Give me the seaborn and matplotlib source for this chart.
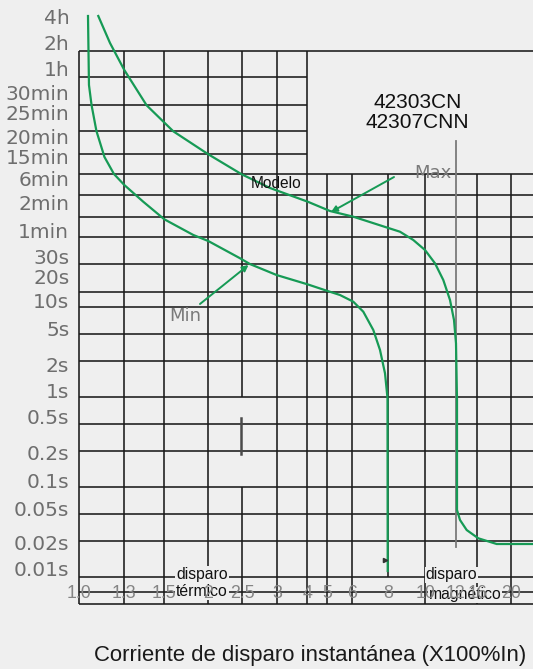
import numpy as np
import pandas as pd
import matplotlib
matplotlib.use("Agg")
import matplotlib.pyplot as plt
import seaborn as sns

# ---------------- data ----------------
time_ticks = [14400, 7200, 3600, 1800, 1500, 1200, 900, 360, 120, 60, 30, 20, 10,
              5, 2, 1, 0.5, 0.2, 0.1, 0.05, 0.02, 0.01]
time_labels = ["4h", "2h", "1h", "30min", "25min", "20min", "15min", "6min", "2min",
               "1min", "30s", "20s", "10s", "5s", "2s", "1s", "0.5s", "0.2s", "0.1s",
               "0.05s", "0.02s", "0.01s"]
mult_ticks = [1.0, 1.3, 1.5, 2, 2.5, 3, 4, 5, 6, 8, 10, 12, 16, 20]
mult_labels = ["1.0", "1.3", "1.5", "2", "2.5", "3", "4", "5", "6", "8", "10", "12", "16", "20"]

min_mult = [1.052, 1.055, 1.058, 1.074, 1.105, 1.158, 1.224, 1.30, 1.391, 1.50, 1.813,
            2.0, 2.463, 2.602, 2.991, 4.018, 4.966, 5.485, 6.048, 6.551, 7.096, 7.487,
            7.792, 7.949, 7.962]
min_time = [14400, 5817, 2247, 1613, 1269, 900, 443, 273.6, 127.4, 79.0, 52.8, 45.2,
            29.2, 25.8, 20.4, 15.7, 13.08, 11.55, 9.588, 7.485, 4.752, 2.856, 1.575,
            0.8298, 0.00923]
max_mult = [1.117, 1.196, 1.3, 1.408, 1.591, 2.0, 2.490, 2.888, 4.018, 5.099, 6.048, 8.0,
            8.585, 9.302, 9.982, 10.60, 11.14, 11.597, 11.878, 12.048, 12.21, 12.21,
            12.707, 13.893, 16.105, 18.17, 23.06]
max_time = [14400, 7010, 3406, 1609, 1265, 935.7, 437.9, 238.5, 127.4, 97.7, 84.4, 63.2,
            57.4, 46.4, 35.9, 26.2, 17.8, 10, 6.095, 3.387, 0.7867, 0.0474, 0.0362,
            0.0276, 0.0221, 0.01896, 0.01896]

min_arrow = [(1.894, 9.057), (2.582, 25.3)]     # tail, head
max_arrow = [(8.28, 391), (5.137, 95.2)]
magnetic_mult = [12, 12]
magnetic_time = [1133, 0.0175]
thermal_mult = [2.479, 2.479]
thermal_time = [0.4874, 0.1951]
mark_point = (7.773, 0.01238)

# ---------------- style / layout ----------------
BG = "#efefef"
GREEN = "#169a55"
GRID = "#1a1a1a"
W, H = 533, 669
AX_L, AX_R, AX_T, AX_B = 79.3, 533.0, 0.0, 603.5

# pixel anchors of the (irregular) printed scales
time_pix = [16, 42, 68, 93, 113, 137, 157, 179, 203, 230, 257, 276, 300, 328, 364, 391,
            417, 453, 481, 508, 542, 568]
mult_pix = [79.3, 124.3, 164.3, 208.3, 242.3, 277.3, 307.3, 327.3, 352.3, 388.3, 425.3,
            455.7, 477.3, 511.3]


def lin_extrap(x, xp, fp):
    x = np.asarray(x, float)
    y = np.interp(x, xp, fp)
    y = np.where(x < xp[0], fp[0] + (x - xp[0]) * (fp[1] - fp[0]) / (xp[1] - xp[0]), y)
    y = np.where(x > xp[-1], fp[-1] + (x - xp[-1]) * (fp[-1] - fp[-2]) / (xp[-1] - xp[-2]), y)
    return y


lt = np.log10(np.array(time_ticks, float))[::-1]
tp = -np.array(time_pix, float)[::-1]
lm = np.log10(np.array(mult_ticks, float))
mp = np.array(mult_pix, float)


def y_fwd(v):
    return lin_extrap(np.log10(np.clip(np.asarray(v, float), 1e-12, None)), lt, tp)


def y_inv(t):
    return 10 ** lin_extrap(t, tp, lt)


def x_fwd(v):
    return lin_extrap(np.log10(np.clip(np.asarray(v, float), 1e-12, None)), lm, mp)


def x_inv(p):
    return 10 ** lin_extrap(p, mp, lm)


fig = plt.figure(figsize=(W / 100, H / 100), dpi=100, facecolor=BG)
ax = fig.add_axes([AX_L / W, 1 - AX_B / H, (AX_R - AX_L) / W, (AX_B - AX_T) / H])
ax.set_facecolor(BG)

df = pd.concat([
    pd.DataFrame({"mult": min_mult, "time": min_time, "curve": "Min"}),
    pd.DataFrame({"mult": max_mult, "time": max_time, "curve": "Max"}),
], ignore_index=True)

sns.lineplot(data=df, x="mult", y="time", hue="curve", units="curve",
             palette={"Min": GREEN, "Max": GREEN}, estimator=None, sort=False,
             legend=False, lw=1.6, ax=ax, zorder=4)

ax.set_xscale("function", functions=(x_fwd, x_inv))
ax.set_yscale("function", functions=(y_fwd, y_inv))
ax.set_xlim(1.0, float(x_inv(AX_R)))
ax.set_ylim(float(y_inv(-AX_B)), float(y_inv(-AX_T)))
ax.autoscale(False)

ax.set_xticks(mult_ticks, mult_labels)
ax.set_yticks(time_ticks, time_labels)
ax.minorticks_off()
ax.tick_params(axis="y", length=0, pad=7.2, labelsize=14.5, labelcolor="#6e6e6e")
ax.tick_params(axis="x", length=0, pad=-13.3, labelsize=12.8, labelcolor="#858585")
for lab in ax.get_xticklabels():
    lab.set_fontfamily("Liberation Sans")
for s in ax.spines.values():
    s.set_visible(False)
ax.grid(False)
ax.set_axisbelow(False)
ax.set_xlabel("")
ax.set_ylabel("")


def fy(p):
    return (AX_B - p) / (AX_B - AX_T)


def fx(p):
    return (p - AX_L) / (AX_R - AX_L)


# grid (layout)
gkw = dict(colors=GRID, lw=1.15, clip_on=False, zorder=1)
xt = ax.get_xaxis_transform()
for v in [1.0, 1.3, 1.5, 2, 3, 4]:
    ax.vlines(v, fy(603.5), fy(50.7), transform=xt, **gkw)
ax.vlines(2.5, fy(397.3), fy(50.7), transform=xt, **gkw)
ax.vlines(2.5, fy(603.5), fy(487.3), transform=xt, **gkw)
for v in [5, 6, 10, 16, 20]:
    ax.vlines(v, fy(603.5), fy(174.3), transform=xt, **gkw)
ax.vlines(8, fy(577.3), fy(174.3), transform=xt, **gkw)
ax.hlines([fy(p) for p in [77.3, 105.3, 131.3, 154.3]], 0, fx(307.3),
          transform=ax.transAxes, **gkw)
ax.hlines([fy(p) for p in [50.7, 174.3, 195.3, 217.3, 237.3, 264.3, 291.7, 307.3, 334.3,
                           361.3, 397.3, 424.3, 451.3, 487.3, 514.3, 541.3, 577.3, 592.3,
                           603.5]], 0, 1, transform=ax.transAxes, **gkw)

# extra marks
ax.plot(magnetic_mult, magnetic_time, color="#7a7a7a", lw=1.3, zorder=3)
ax.plot(thermal_mult, thermal_time, color="#4a4a4a", lw=1.8, zorder=3)
ax.plot([mark_point[0]], [mark_point[1]], marker=">", ms=3, color="#333333", zorder=5)

akw = dict(arrowstyle="-|>", mutation_scale=9, color=GREEN, lw=1.4, shrinkA=0, shrinkB=0)
ax.annotate("", xy=min_arrow[1], xytext=min_arrow[0], arrowprops=akw, zorder=5)
ax.annotate("", xy=max_arrow[1], xytext=max_arrow[0], arrowprops=akw, zorder=5)


def ftext(px, py, s, **kw):
    return ax.text(px / W, 1 - py / H, s, transform=fig.transFigure, clip_on=False, **kw)


ftext(417.3, 112.6, "42303CN\n42307CNN", ha="center", va="center", fontsize=15,
      family="Liberation Sans", color="#111111", linespacing=1.12, zorder=6)
ftext(275.8, 183.5, "Modelo", ha="center", va="center", fontsize=11.2,
      family="Liberation Sans", color="#111111", zorder=6)
ftext(433.3, 172.7, "Max", ha="center", va="center", fontsize=13,
      color="#7a7a7a", zorder=6)
ftext(185, 316, "Min", ha="center", va="center", fontsize=13,
      color="#7a7a7a", zorder=6)

# trip-zone captions: background box hides the grid, tick labels stay on top
bkw = dict(facecolor=BG, edgecolor="none", pad=0.5)
ftext(202, 583, "disparo\ntérmico", ha="center", va="center", fontsize=11.3,
      family="Liberation Sans", color="#111111", linespacing=1.2, bbox=bkw, zorder=2)
ftext(451.3, 575, "disparo", ha="center", va="center", fontsize=11.3,
      family="Liberation Sans", color="#111111", bbox=bkw, zorder=2)
ftext(465, 595, "magnético", ha="center", va="center", fontsize=11.3,
      family="Liberation Sans", color="#111111", bbox=bkw, zorder=2)

ftext(310, 655, "Corriente de disparo instantánea (X100%In)", ha="center", va="center",
      fontsize=15.9, family="Liberation Sans", color="#1a1a1a", zorder=6)

fig.savefig("out.png", dpi=100, facecolor=BG)
